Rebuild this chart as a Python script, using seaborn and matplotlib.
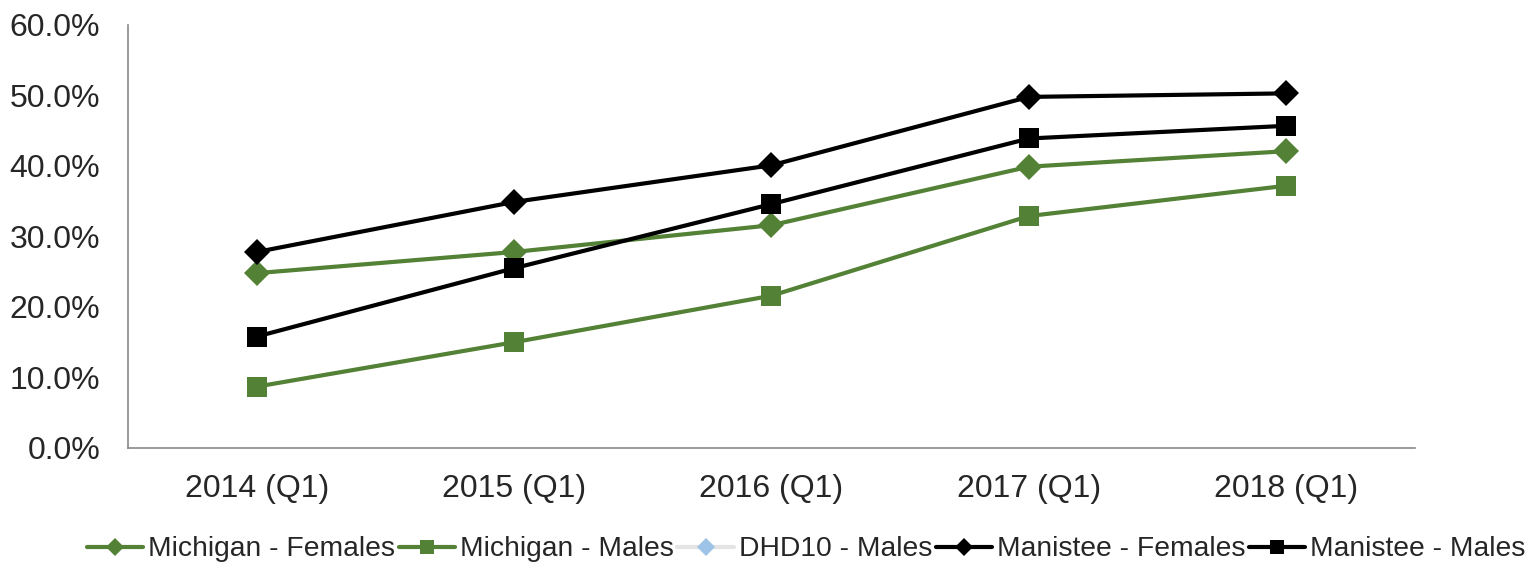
import numpy as np
import pandas as pd
import seaborn as sns
import matplotlib.pyplot as plt
from matplotlib.ticker import FuncFormatter

quarters = ["2014 (Q1)", "2015 (Q1)", "2016 (Q1)", "2017 (Q1)", "2018 (Q1)"]
michigan_females = [24.8, 27.8, 31.6, 39.9, 42.1]
michigan_males = [8.7, 15.0, 21.6, 32.9, 37.2]
dhd10_males = [np.nan, np.nan, np.nan, np.nan, np.nan]
manistee_females = [27.8, 34.9, 40.1, 49.8, 50.3]
manistee_males = [15.8, 25.5, 34.6, 43.9, 45.7]

sns.set_style("white")
plt.rcParams["font.family"] = ["Liberation Sans", "DejaVu Sans"]

green = "#538135"

fig = plt.figure(figsize=(15.33, 5.63), dpi=100)
ax = fig.add_axes([0.0835, 0.2043, 0.8395, 0.7513])

series = [
    ("Michigan - Females", michigan_females, green, "D", 13.5),
    ("Michigan - Males", michigan_males, green, "s", 14.5),
    ("Manistee - Females", manistee_females, "black", "D", 13.5),
    ("Manistee - Males", manistee_males, "black", "s", 14.5),
]

for name, vals, color, marker, ms in series[:2]:
    df = pd.DataFrame({"quarter": quarters, "value": vals})
    sns.lineplot(data=df, x="quarter", y="value", ax=ax, color=color,
                 marker=marker, markersize=ms, linewidth=3,
                 markeredgewidth=0, label=name)

# DHD10 has no data, only a legend entry
ax.plot(quarters, dhd10_males, color="#e4e4e4", linewidth=3, marker="D",
        markersize=13.5, markerfacecolor="#9dc3e6", markeredgewidth=0,
        label="DHD10 - Males")

for name, vals, color, marker, ms in series[2:]:
    df = pd.DataFrame({"quarter": quarters, "value": vals})
    sns.lineplot(data=df, x="quarter", y="value", ax=ax, color=color,
                 marker=marker, markersize=ms, linewidth=3,
                 markeredgewidth=0, label=name)

ax.set_xlim(-0.5, 4.5)
ax.set_ylim(0, 60)
ax.set_yticks(np.arange(0, 61, 10))
ax.yaxis.set_major_formatter(FuncFormatter(lambda v, p: f"{v:.1f}%"))
ax.set_xlabel("")
ax.set_ylabel("")
ax.tick_params(axis="y", length=0, pad=20, labelsize=23)
ax.tick_params(axis="x", length=0, pad=19, labelsize=23)

for s in ["top", "right"]:
    ax.spines[s].set_visible(False)
for s in ["left", "bottom"]:
    ax.spines[s].set_color("#898989")
    ax.spines[s].set_linewidth(1.2)

handles, labels = ax.get_legend_handles_labels()
ax.legend_.remove()
fig.legend(handles, labels, loc="center", bbox_to_anchor=(0.526, 0.024),
           ncol=5, frameon=False, fontsize=20.3, markerscale=0.65,
           handlelength=2.0, handletextpad=0.18, columnspacing=0.12)

fig.savefig("out.png", dpi=100)
